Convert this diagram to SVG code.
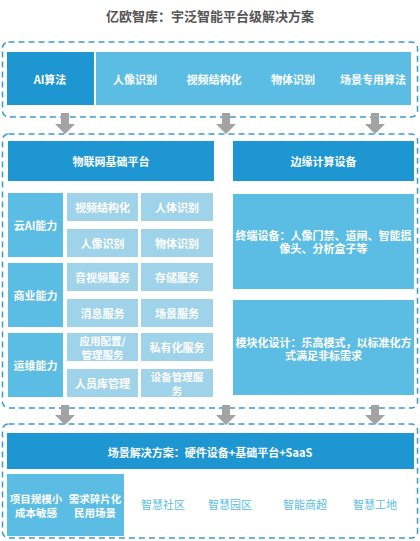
<svg xmlns="http://www.w3.org/2000/svg" width="420" height="541" viewBox="0 0 420 541">
<defs>
<style>
text{font-family:"Noto Sans CJK SC","Liberation Sans",sans-serif;text-anchor:middle;dominant-baseline:central}
.w{fill:#fff;font-size:11px;font-weight:bold}
.w2{fill:#fff;font-size:10.5px;font-weight:bold}
.t{fill:#555;font-size:13px;font-weight:bold}
.dash{fill:none;stroke:#3a9ccf;stroke-width:1.5;stroke-dasharray:6 4}
.dark{fill:#1e96d2}
.mid{fill:#5bbde4}
.cell{fill:#9fd3ea}
.arrow{fill:#a3a3a3}
.s{fill:#5bbde4;font-size:11px}
</style>
</defs>
<text class="t" x="210" y="15">亿欧智库：宇泛智能平台级解决方案</text>

<g id="frames">
<rect class="dash" x="2.5" y="42" width="415" height="75" rx="6"/>
<rect class="dash" x="2.5" y="134" width="415" height="274" rx="6"/>
<rect class="dash" x="2.5" y="424" width="415" height="114" rx="6"/>
</g>

<g id="algo">
<rect class="dark" x="7" y="52" width="87" height="53"/>
<text class="w" x="50" y="79">AI算法</text>
<rect class="mid" x="96" y="52" width="315" height="53"/>
<text class="w" x="135" y="79">人像识别</text>
<text class="w" x="214" y="79">视频结构化</text>
<text class="w" x="293" y="79">物体识别</text>
<text class="w" x="373" y="79">场景专用算法</text>
</g>

<g id="connectors">
<path class="arrow" d="M61 113h8v11h6l-10 10l-10-10h6z"/>
<path class="arrow" d="M222 113h8v11h6l-10 10l-10-10h6z"/>
<path class="arrow" d="M371 113h8v11h6l-10 10l-10-10h6z"/>
<path class="arrow" d="M61 405h8v10h6l-10 10l-10-10h6z"/>
<path class="arrow" d="M222 405h8v10h6l-10 10l-10-10h6z"/>
<path class="arrow" d="M371 405h8v10h6l-10 10l-10-10h6z"/>
</g>

<g id="iot-platform">
<rect class="dark" x="8" y="141" width="206" height="40"/>
<text class="w" x="111" y="161">物联网基础平台</text>
</g>
<g id="cloud-ai">
<rect class="mid" x="8" y="193" width="55" height="64"/>
<text class="w" x="35.5" y="225">云AI能力</text>
<rect class="cell" x="67" y="193" width="71" height="28"/>
<text class="w" x="102.5" y="207">视频结构化</text>
<rect class="cell" x="141" y="193" width="72" height="28"/>
<text class="w" x="177" y="207">人体识别</text>
<rect class="cell" x="67" y="229" width="71" height="28"/>
<text class="w" x="102.5" y="243">人像识别</text>
<rect class="cell" x="141" y="229" width="72" height="28"/>
<text class="w" x="177" y="243">物体识别</text>
</g>
<g id="business">
<rect class="mid" x="8" y="263" width="55" height="64"/>
<text class="w" x="35.5" y="295">商业能力</text>
<rect class="cell" x="67" y="263" width="71" height="28"/>
<text class="w" x="102.5" y="277">音视频服务</text>
<rect class="cell" x="141" y="263" width="72" height="28"/>
<text class="w" x="177" y="277">存储服务</text>
<rect class="cell" x="67" y="299" width="71" height="28"/>
<text class="w" x="102.5" y="313">消息服务</text>
<rect class="cell" x="141" y="299" width="72" height="28"/>
<text class="w" x="177" y="313">场景服务</text>
</g>
<g id="ops">
<rect class="mid" x="8" y="333" width="55" height="64"/>
<text class="w" x="35.5" y="365">运维能力</text>
<rect class="cell" x="67" y="333" width="71" height="28"/>
<text class="w2" x="102.5" y="340.5">应用配置/<tspan x="102.5" dy="13">管理服务</tspan></text>
<rect class="cell" x="141" y="333" width="72" height="28"/>
<text class="w" x="177" y="347">私有化服务</text>
<rect class="cell" x="67" y="369" width="71" height="28"/>
<text class="w" x="102.5" y="383">人员库管理</text>
<rect class="cell" x="141" y="369" width="72" height="28"/>
<text class="w2" x="177" y="376.5">设备管理服<tspan x="177" dy="13">务</tspan></text>
</g>

<g id="edge">
<rect class="dark" x="233" y="141" width="181" height="40"/>
<text class="w" x="323.5" y="161">边缘计算设备</text>
<rect class="mid" x="233" y="194" width="181" height="95"/>
<text class="w" x="323.5" y="235">终端设备：人像门禁、道闸、智能摄<tspan x="323.5" dy="13">像头、分析盒子等</tspan></text>
<rect class="mid" x="233" y="300" width="181" height="95"/>
<text class="w" x="323.5" y="342">模块化设计：乐高模式，以标准化方<tspan x="323.5" dy="13">式满足非标需求</tspan></text>
</g>

<g id="scenario">
<rect class="dark" x="7" y="433" width="407" height="36"/>
<text class="w" x="210" y="452">场景解决方案：硬件设备+基础平台+SaaS</text>
<rect class="mid" x="7" y="474" width="117" height="62"/>
<text class="w2" x="36" y="498.5">项目规模小<tspan x="36" dy="13">成本敏感</tspan></text>
<text class="w2" x="95" y="498.5">需求碎片化<tspan x="95" dy="13">民用场景</tspan></text>
<text class="s" x="163" y="504">智慧社区</text>
<text class="s" x="230" y="504">智慧园区</text>
<text class="s" x="305" y="504">智能商超</text>
<text class="s" x="375" y="504">智慧工地</text>
</g>
</svg>
